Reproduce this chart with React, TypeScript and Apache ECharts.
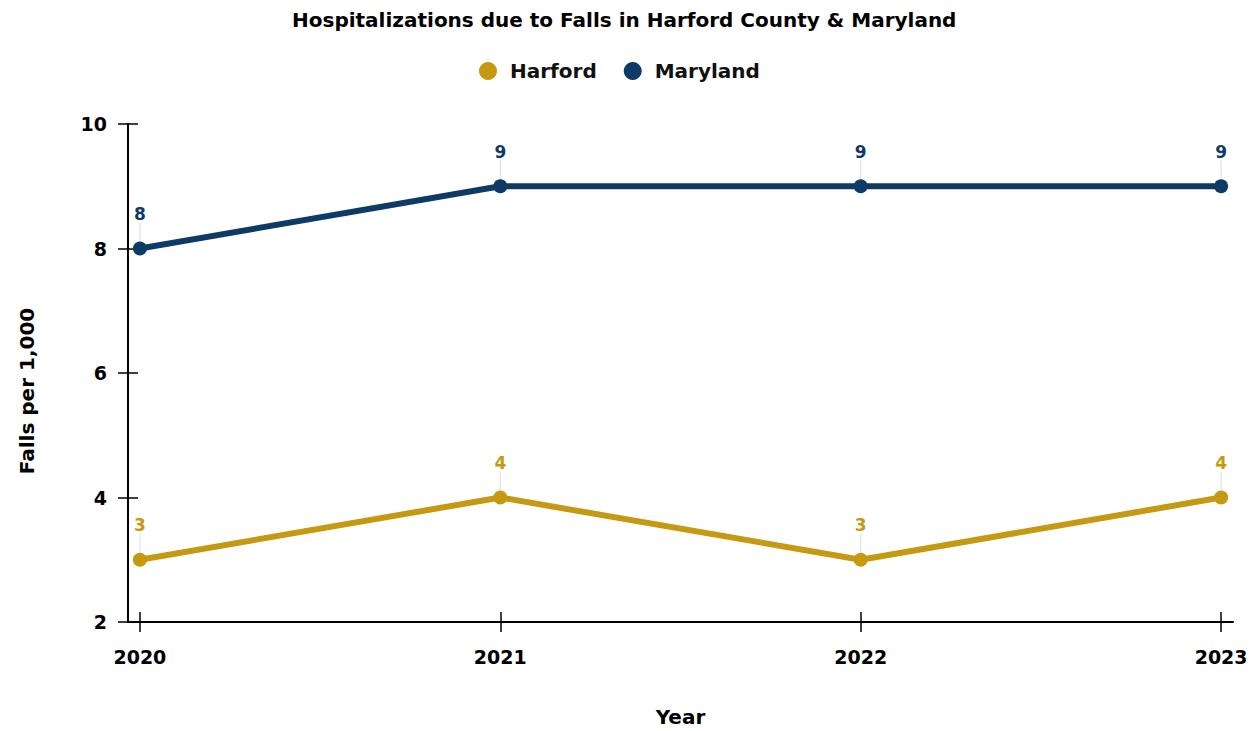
import React, { useEffect, useRef } from "react";
import * as echarts from "echarts";

const years = [2020, 2021, 2022, 2023];
const harford = [3, 4, 3, 4];
const maryland = [8, 9, 9, 9];
const yTicks = [2, 4, 6, 8, 10];

const FONT = "'DejaVu Sans', Verdana, sans-serif";
const GOLD = "#C59A12";
const NAVY = "#0D3B66";

export default function App() {
  const ref = useRef<HTMLDivElement>(null);
  useEffect(() => {
    document.body.style.margin = "0";
    const chart = echarts.init(ref.current!, null, { renderer: "svg" });
    const mkSeries = (name: string, vals: number[], color: string) => ({
      name,
      type: "line",
      data: years.map((y, i) => [y, vals[i]]),
      symbol: "circle",
      symbolSize: 14,
      lineStyle: { width: 6, color },
      itemStyle: { color },
      label: {
        show: true,
        position: "top",
        distance: 6,
        color,
        fontFamily: FONT,
        fontWeight: "bold",
        fontSize: 17,
      },
      labelLayout: { dy: -13 },
      labelLine: { show: true, lineStyle: { color: "#dddddd", width: 1 } },
    });
    chart.setOption({
      animation: false,
      title: {
        text: "Hospitalizations due to Falls in Harford County & Maryland",
        left: 287,
        top: 5,
        textStyle: { fontFamily: FONT, fontWeight: "bold", fontSize: 20, color: "#000" },
      },
      legend: {
        top: 56,
        left: 474,
        icon: "circle",
        itemWidth: 18,
        itemHeight: 18,
        itemGap: 27,
        textStyle: { fontFamily: FONT, fontWeight: "bold", fontSize: 20, color: "#111", padding: [0, 0, 0, 8] },
        data: ["Harford", "Maryland"],
      },
      graphic: [
        {
          type: "text",
          x: 27,
          y: 391,
          rotation: Math.PI / 2,
          style: {
            text: "Falls per 1,000",
            align: "center",
            verticalAlign: "middle",
            fontFamily: FONT,
            fontWeight: "bold",
            fontSize: 20,
            fill: "#000",
          },
        },
      ],
      grid: { left: 128, right: 25, top: 124, bottom: 109, outerBoundsMode: "none", containLabel: false },
      xAxis: [
        {
          type: "value",
          min: 2019.967,
          max: 2023.033,
          name: "Year",
          nameLocation: "middle",
          nameGap: 85,
          nameTextStyle: { fontFamily: FONT, fontWeight: "bold", fontSize: 20, color: "#000" },
          axisLine: { show: true, lineStyle: { color: "#000", width: 2 } },
          axisTick: { show: true, length: 10, lineStyle: { color: "#000", width: 1.5 }, customValues: years },
          axisLabel: {
            customValues: years,
            formatter: (v: number) => String(v),
            fontFamily: FONT,
            fontWeight: "bold",
            fontSize: 19,
            color: "#000",
            margin: 25,
          },
          splitLine: { show: false },
        },
        {
          type: "value",
          min: 2019.967,
          max: 2023.033,
          position: "bottom",
          axisLine: { show: false },
          axisTick: { show: true, inside: true, length: 10, lineStyle: { color: "#000", width: 1.5 }, customValues: years },
          axisLabel: { show: false },
          splitLine: { show: false },
        },
      ],
      yAxis: [
        {
          type: "value",
          min: 2,
          max: 10,
          interval: 2,
          axisLine: { show: true, lineStyle: { color: "#000", width: 2 } },
          axisTick: { show: true, length: 10, lineStyle: { color: "#000", width: 1.5 } },
          axisLabel: {
            fontFamily: FONT,
            fontWeight: "bold",
            fontSize: 19,
            color: "#000",
            margin: 21,
            customValues: yTicks,
          },
          splitLine: { show: false },
        },
        {
          type: "value",
          min: 2,
          max: 10,
          interval: 2,
          position: "left",
          axisLine: { show: false },
          axisTick: { show: true, inside: true, length: 10, lineStyle: { color: "#000", width: 1.5 } },
          axisLabel: { show: false },
          splitLine: { show: false },
        },
      ],
      series: [mkSeries("Harford", harford, GOLD), mkSeries("Maryland", maryland, NAVY)],
    });
    return () => chart.dispose();
  }, []);
  return <div ref={ref} style={{ width: 1258, height: 731 }} />;
}
